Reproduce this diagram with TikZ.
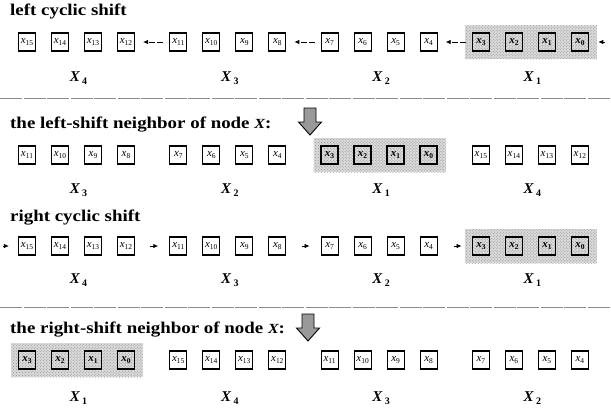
\documentclass[tikz,border=0pt]{standalone}
\usepackage{fontspec}
\setmainfont{Liberation Serif}
\newfontfamily\ttlfont[FakeStretch=1.15]{Liberation Serif}
\usetikzlibrary{arrows.meta,patterns}
\newcommand\cx[1]{\textit{x}\raisebox{-0.4ex}{\fontsize{7.5}{8}\selectfont #1}}
\newcommand\glab[1]{{\bfseries\itshape X}\,\raisebox{-0.35ex}{\bfseries\fontsize{10}{10}\selectfont #1}}
\begin{document}
\begin{tikzpicture}[x=1bp,y=-1bp,
  cell/.style={draw, line width=1.1bp, minimum width=17bp, minimum height=18bp, inner sep=0pt, font=\fontsize{11}{12}\selectfont},
  hcell/.style={cell, line width=1.7bp, font=\bfseries\fontsize{11}{12}\selectfont},
  shade/.style={fill=black!14},
  shadedots/.style={pattern=crosshatch dots, pattern color=black!45},
  grp/.style={font=\fontsize{15}{16}\selectfont, inner sep=0pt},
  ttl/.style={anchor=west, inner sep=0pt, font=\ttlfont\bfseries\fontsize{16.5}{18}\selectfont},
  sep/.style={draw=black!45, line width=0.5bp, dash pattern=on 22bp off 1.5bp},
  arr/.style={-{Latex[length=5bp,width=4.5bp]}, line width=0.8bp},
  darr/.style={arr, dash pattern=on 6bp off 2bp},
  downarrow/.pic={\draw[fill=black!40, line width=0.9bp] (-6,-13) -- (6,-13) -- (6,1) -- (11.5,1) -- (0,14) -- (-11.5,1) -- (-6,1) -- cycle;}
]
\useasboundingbox (0,0) rectangle (611,410);

% titles
\node[ttl] (t1) at (10,11) {left cyclic shift};
\node[ttl] (t2) at (10,125) {the left-shift neighbor of node {\itshape\fontsize{14}{14}\selectfont X}:};
\node[ttl] (t3) at (10,218) {right cyclic shift};
\node[ttl] (t4) at (10,330) {the right-shift neighbor of node {\itshape\fontsize{14}{14}\selectfont X}:};

% separators
\draw[sep] (0,98) -- (611,98);
\draw[sep] (0,307) -- (611,307);

% big arrows
\pic at (310,121) {downarrow};
\pic at (308,327) {downarrow};

% rows of cells
\foreach \r/\y/\off/\hg in {1/42/15/3, 2/155/11/2, 3/246/15/3, 4/360/3/0} {
  \fill[shade] (27+151.3*\hg-16, \y-17) rectangle (27+151.3*\hg+99+17, \y+17);
  \path[shadedots] (27+151.3*\hg-16, \y-17) rectangle (27+151.3*\hg+99+17, \y+17);
  \foreach \c in {0,...,15} {
    \pgfmathtruncatemacro\g{div(\c,4)}
    \pgfmathtruncatemacro\j{mod(\c,4)}
    \pgfmathtruncatemacro\k{mod(\off-\c+16,16)}
    \pgfmathsetmacro\xx{27+151.3*\g+33*\j}
    \ifnum\k<4 \def\sty{hcell}\else\def\sty{cell}\fi
    \node[\sty] (r\r x\k) at (\xx,\y) {\cx{\k}};
  }
}

% group labels
\foreach \r/\ly/\a/\b/\c/\d in {1/78/4/3/2/1, 2/190/3/2/1/4, 3/280/4/3/2/1, 4/398/1/4/3/2} {
  \node[grp] (l\r a) at (27+49.5+2,\ly) {\glab{\a}};
  \node[grp] (l\r b) at (27+151.3+49.5+2,\ly) {\glab{\b}};
  \node[grp] (l\r c) at (27+302.6+49.5+2,\ly) {\glab{\c}};
  \node[grp] (l\r d) at (27+453.9+49.5+2,\ly) {\glab{\d}};
}

% row 1 arrows (left shift)
\draw[darr] ([xshift=-6bp]r1x11.west) -- ([xshift=8bp]r1x12.east);
\draw[darr] ([xshift=-6bp]r1x7.west) -- ([xshift=8bp]r1x8.east);
\draw[darr] ([xshift=-6bp]r1x3.west) -- ([xshift=8bp]r1x4.east);
\coordinate (e1) at (605,42);
\draw[arr] (e1) -- ([xshift=9bp]r1x0.east);

% row 3 arrowheads (right shift)
\coordinate (s15) at (3,246);
\draw[arr] (s15) -- ([xshift=-9bp]r3x15.west);
\coordinate (s11) at (150,246);
\draw[arr] (s11) -- ([xshift=-11bp]r3x11.west);
\coordinate (s7) at (302,246);
\draw[arr] (s7) -- ([xshift=-11bp]r3x7.west);
\coordinate (s3) at (454,246);
\draw[arr] (s3) -- ([xshift=-10bp]r3x3.west);
\end{tikzpicture}
\end{document}
